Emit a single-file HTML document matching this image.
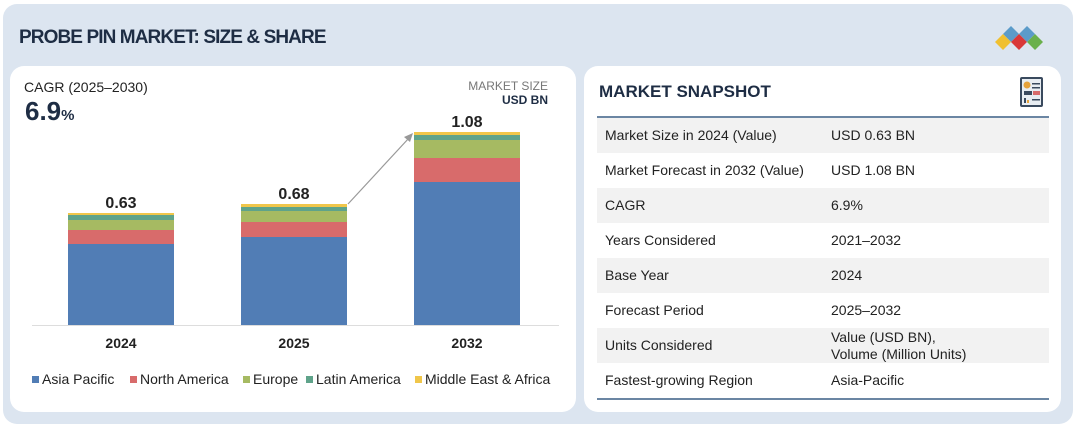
<!DOCTYPE html>
<html><head><style>
*{margin:0;padding:0;box-sizing:border-box}
body{width:1077px;height:429px;background:#fff;font-family:"Liberation Sans",sans-serif;position:relative;overflow:hidden}
.outer{position:absolute;left:3px;top:4px;width:1070px;height:420px;background:#dce5f0;border-radius:14px}
.title{position:absolute;left:19px;top:27px;font-size:19px;font-weight:bold;color:#1e2d44;letter-spacing:-0.9px}
.card{position:absolute;background:#fff;border-radius:14px}
.abs{position:absolute}
.row{position:absolute;left:597px;width:452px;height:35px;font-size:14px;color:#222}
.row span{position:absolute;top:9px}
.row .a{left:8px}.row .b{left:234px}
.g{background:#f2f2f2}
.leg{position:absolute;top:371px;font-size:14px;color:#222}
.leg i{display:inline-block;width:7px;height:7px;margin-right:3px;vertical-align:1px}
</style></head><body>
<div class="outer"></div>
<div class="title">PROBE PIN MARKET: SIZE &amp; SHARE</div>
<svg class="abs" style="left:988px;top:26px" width="58" height="28">
<polygon points="23,0 31,8 23,16 15,8" fill="#5b9bc9"/><polygon points="39,0 47,8 39,16 31,8" fill="#5b9bc9"/>
<polygon points="15,8 23,16 15,24 7,16" fill="#f0c030"/><polygon points="31,8 39,16 31,24 23,16" fill="#d93838"/><polygon points="47,8 55,16 47,24 39,16" fill="#6ab04c"/>
</svg>
<div class="card" style="left:10px;top:66px;width:566px;height:346px"></div>
<div class="card" style="left:584px;top:66px;width:477px;height:346px"></div>
<div class="abs" style="left:24px;top:79px;font-size:14px;color:#222">CAGR (2025–2030)</div>
<div class="abs" style="left:25px;top:96px;font-size:26px;font-weight:bold;color:#1e2d44">6.9<span style="font-size:15px">%</span></div>
<div class="abs" style="left:440px;top:79px;width:108px;text-align:right;font-size:12px;color:#777">MARKET SIZE</div>
<div class="abs" style="left:440px;top:93px;width:108px;text-align:right;font-size:12px;font-weight:bold;color:#1e2d44">USD BN</div>
<svg class="abs" style="left:0;top:0" width="580" height="429">
<g font-family="Liberation Sans" font-weight="bold" font-size="16" fill="#222" text-anchor="middle">
<text x="121" y="208">0.63</text><text x="294" y="199">0.68</text><text x="467" y="127">1.08</text>
<text x="121" y="348" font-size="14">2024</text><text x="294" y="348" font-size="14">2025</text><text x="467" y="348" font-size="14">2032</text>
</g>
<rect x="68" y="244" width="106" height="81" fill="#517db5"/><rect x="68" y="230" width="106" height="14" fill="#d86b6b"/><rect x="68" y="220" width="106" height="10" fill="#a6ba62"/><rect x="68" y="215" width="106" height="5" fill="#5fa38a"/><rect x="68" y="213" width="106" height="2" fill="#f0c64a"/>
<rect x="241" y="237" width="106" height="88" fill="#517db5"/><rect x="241" y="222" width="106" height="15" fill="#d86b6b"/><rect x="241" y="211" width="106" height="11" fill="#a6ba62"/><rect x="241" y="207" width="106" height="4" fill="#5fa38a"/><rect x="241" y="204" width="106" height="3" fill="#f0c64a"/>
<rect x="414" y="182" width="106" height="143" fill="#517db5"/><rect x="414" y="158" width="106" height="24" fill="#d86b6b"/><rect x="414" y="140" width="106" height="18" fill="#a6ba62"/><rect x="414" y="135" width="106" height="5" fill="#5fa38a"/><rect x="414" y="132" width="106" height="3" fill="#f0c64a"/>
<line x1="32" y1="325.5" x2="559" y2="325.5" stroke="#ddd" stroke-width="1"/>
<line x1="348" y1="204" x2="409" y2="138" stroke="#999" stroke-width="1.2"/>
<polygon points="413,133 404,137 410,142" fill="#999"/>
</svg>
<div class="leg" style="left:32px"><i style="background:#517db5"></i>Asia Pacific</div>
<div class="leg" style="left:130px"><i style="background:#d86b6b"></i>North America</div>
<div class="leg" style="left:243px"><i style="background:#a6ba62"></i>Europe</div>
<div class="leg" style="left:306px"><i style="background:#5fa38a"></i>Latin America</div>
<div class="leg" style="left:415px"><i style="background:#f0c64a"></i>Middle East &amp; Africa</div>
<div class="abs" style="left:599px;top:82px;font-size:17px;font-weight:bold;color:#1e2d44">MARKET SNAPSHOT</div>
<svg class="abs" style="left:1019px;top:76px" width="26" height="32">
<rect x="1" y="1" width="23" height="30" rx="2" fill="#3a4a5e"/><rect x="3" y="3" width="19" height="26" fill="#e8edf2"/>
<circle cx="8" cy="9" r="3.5" fill="#e6a23a"/><rect x="13" y="7" width="8" height="1.5" fill="#3a4a5e"/><rect x="13" y="11" width="8" height="1.5" fill="#3a4a5e"/>
<rect x="5" y="15" width="8" height="4" fill="#3a4a5e"/><rect x="14" y="15" width="7" height="4" fill="#d86b6b"/>
<rect x="5" y="22" width="2" height="5" fill="#3a4a5e"/><rect x="8" y="24" width="2" height="3" fill="#e6a23a"/><rect x="13" y="23" width="8" height="1.5" fill="#3a4a5e"/>
</svg>
<div class="abs" style="left:597px;top:116px;width:452px;height:2px;background:#6b86a3"></div>
<div class="row g" style="top:118px"><span class="a">Market Size in 2024 (Value)</span><span class="b">USD 0.63 BN</span></div>
<div class="row" style="top:153px"><span class="a">Market Forecast in 2032 (Value)</span><span class="b">USD 1.08 BN</span></div>
<div class="row g" style="top:188px"><span class="a">CAGR</span><span class="b">6.9%</span></div>
<div class="row" style="top:223px"><span class="a">Years Considered</span><span class="b">2021–2032</span></div>
<div class="row g" style="top:258px"><span class="a">Base Year</span><span class="b">2024</span></div>
<div class="row" style="top:293px"><span class="a">Forecast Period</span><span class="b">2025–2032</span></div>
<div class="row g" style="top:328px"><span class="a">Units Considered</span><span class="b" style="top:1px;line-height:17px">Value (USD BN),<br>Volume (Million Units)</span></div>
<div class="row" style="top:363px"><span class="a">Fastest-growing Region</span><span class="b">Asia-Pacific</span></div>
<div class="abs" style="left:597px;top:398px;width:452px;height:2px;background:#6b86a3"></div>
</body></html>
